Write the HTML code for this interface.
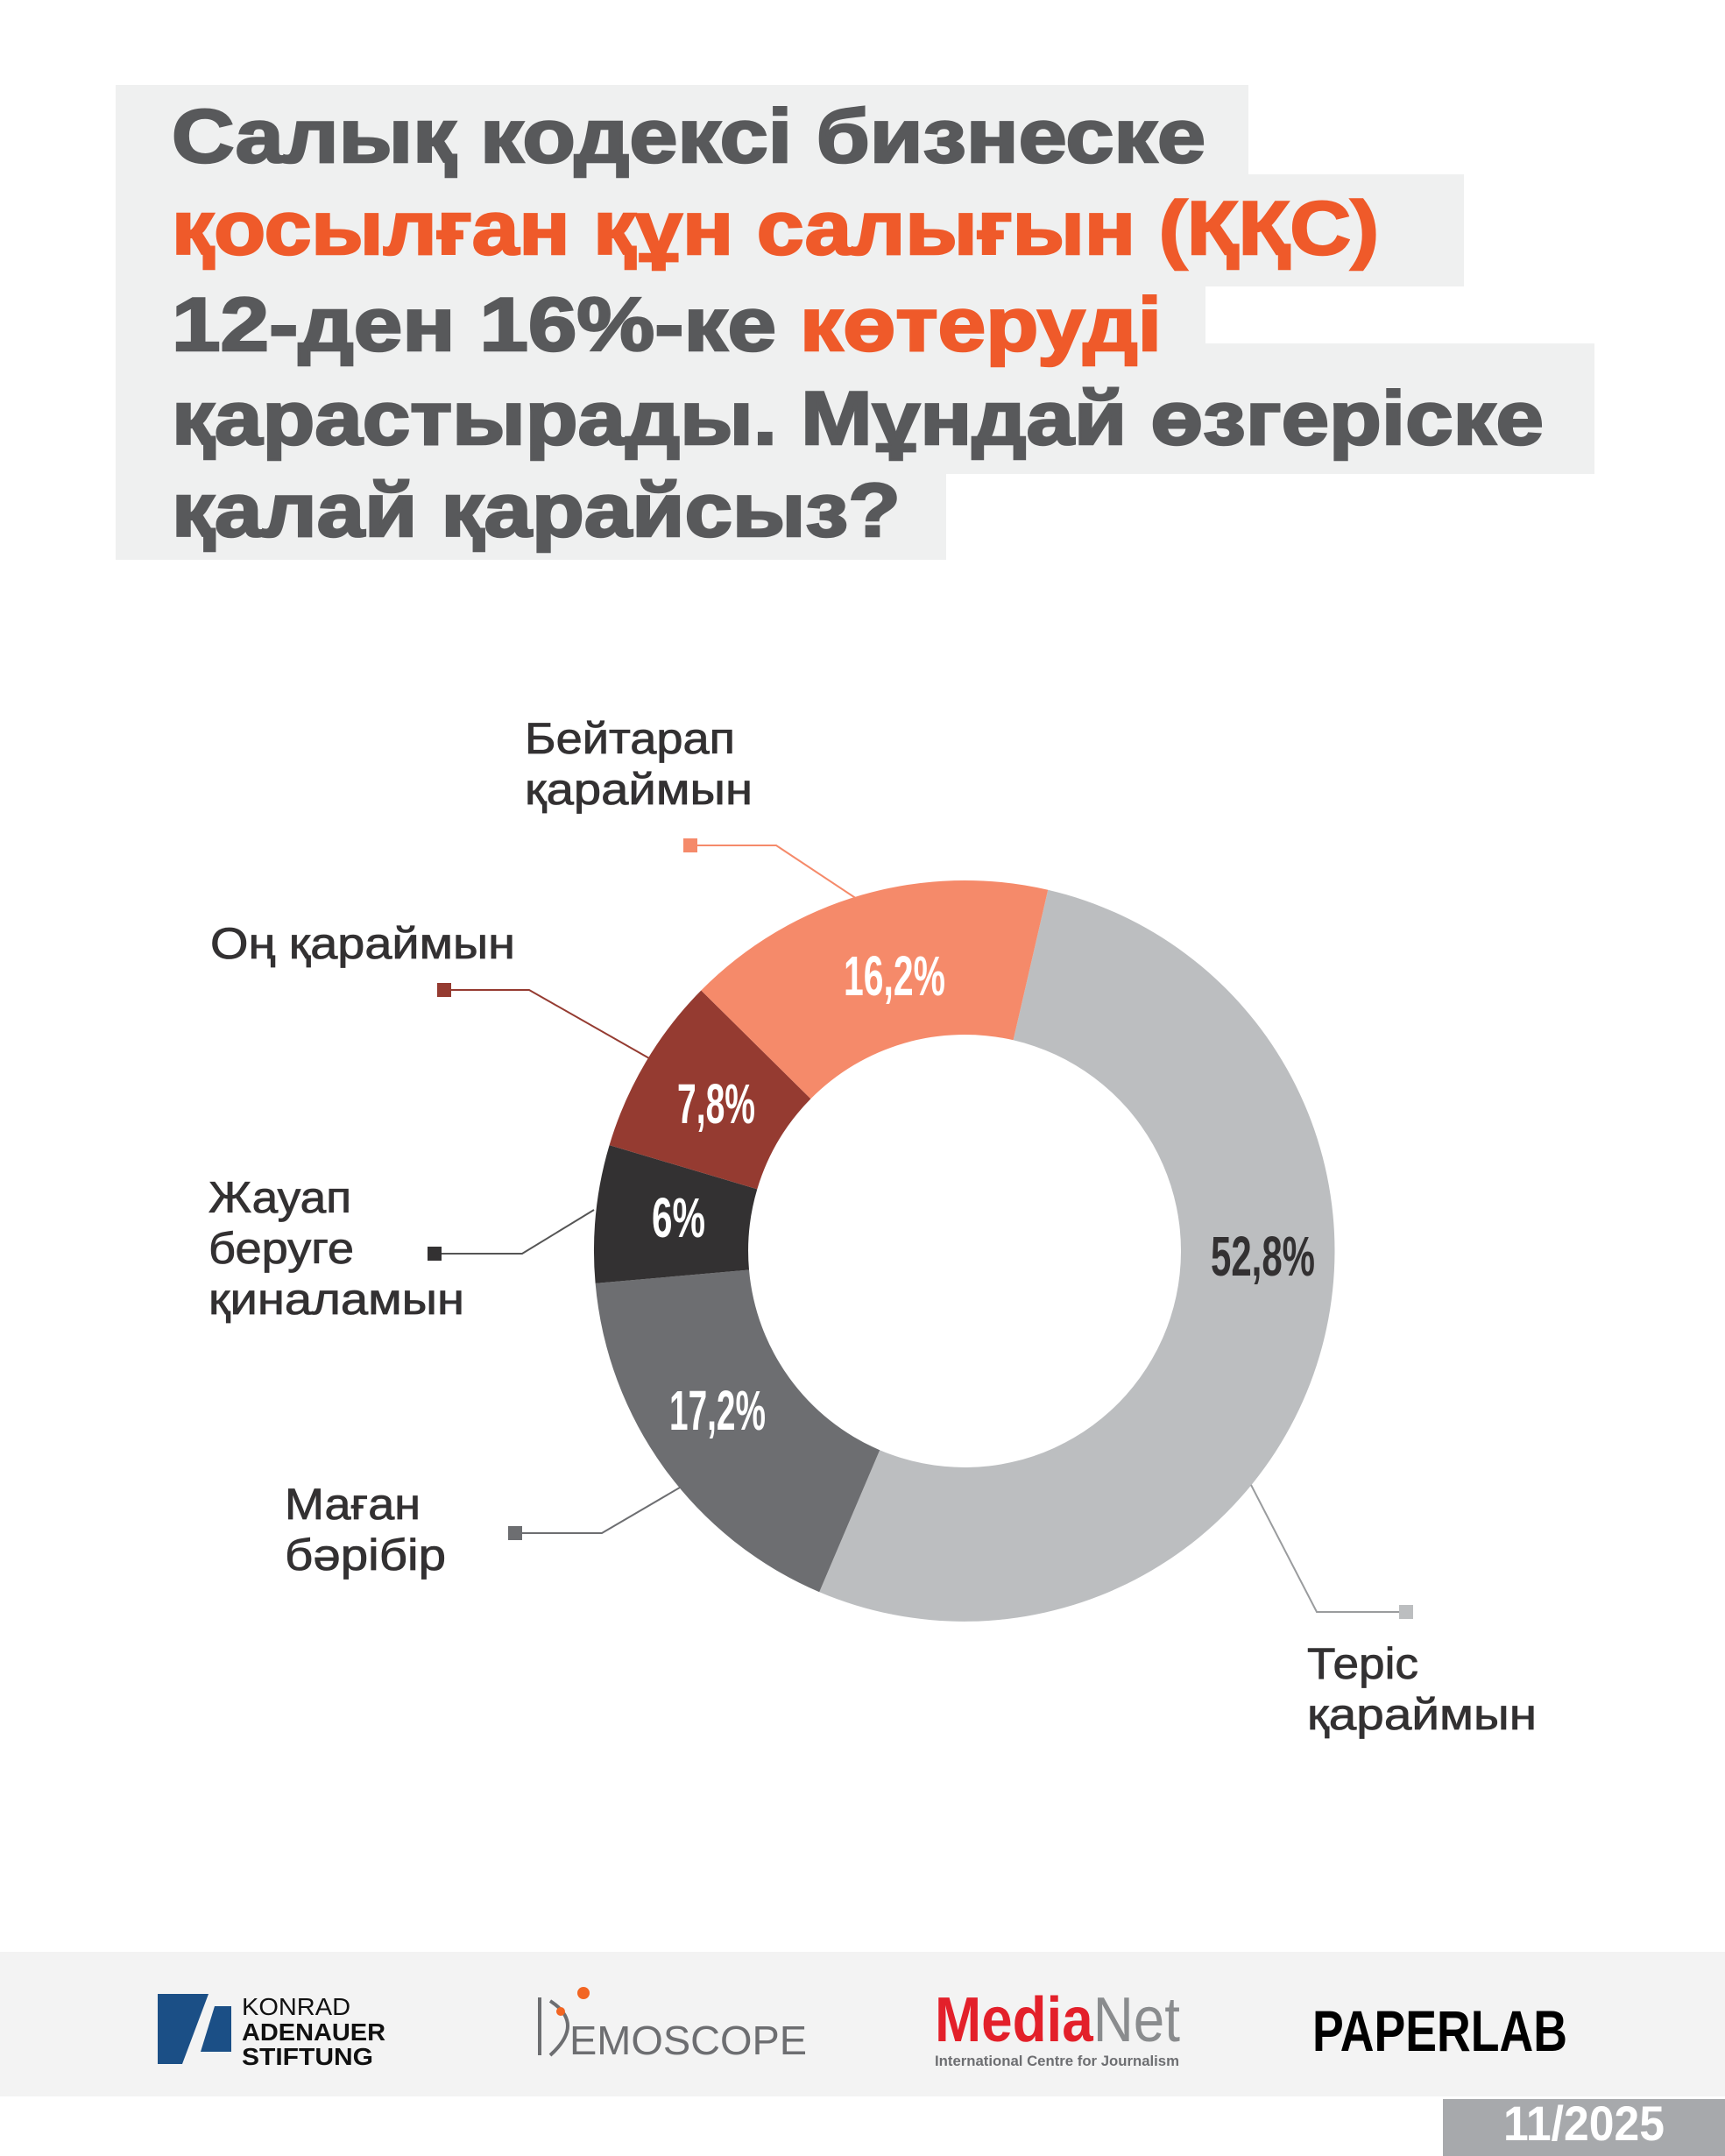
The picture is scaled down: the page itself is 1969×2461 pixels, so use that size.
<!DOCTYPE html>
<html><head><meta charset="utf-8"><style>
html,body{margin:0;padding:0;background:#fff}
svg{display:block}
</style></head><body>
<svg width="1969" height="2461" viewBox="0 0 1969 2461" xmlns="http://www.w3.org/2000/svg" font-family="Liberation Sans, DejaVu Sans, sans-serif">
<rect width="1969" height="2461" fill="#ffffff"/>
<g fill="#eff0f0">
<rect x="132" y="97" width="1293" height="103"/>
<rect x="132" y="199" width="1539" height="128"/>
<rect x="132" y="326" width="1244" height="67"/>
<rect x="132" y="392" width="1688" height="149"/>
<rect x="132" y="540" width="948" height="99"/>
</g>
<g font-weight="bold" font-size="86" fill="#58595b" stroke="#58595b" stroke-width="2.5">
<text x="196" y="185" textLength="1180" lengthAdjust="spacingAndGlyphs">Салық кодексі бизнеске</text>
<text x="196" y="290" textLength="1378" lengthAdjust="spacingAndGlyphs" fill="#ef5a2a" stroke="#ef5a2a">қосылған құн салығын (ҚҚС)</text>
<text x="196" y="400" textLength="690" lengthAdjust="spacingAndGlyphs">12-ден 16%-ке</text>
<text x="913" y="400" textLength="413" lengthAdjust="spacingAndGlyphs" fill="#ef5a2a" stroke="#ef5a2a">көтеруді</text>
<text x="196" y="507" textLength="1566" lengthAdjust="spacingAndGlyphs">қарастырады. Мұндай өзгеріске</text>
<text x="196" y="612" textLength="832" lengthAdjust="spacingAndGlyphs">қалай қарайсыз?</text>
</g>
<path d="M1196.2,1015.8 A423,423 0 1 1 935.2,1817.2 L1004.2,1655.2 A247,247 0 1 0 1156.6,1187.3 Z" fill="#bcbec0"/>
<path d="M935.2,1817.2 A423,423 0 0 1 679.6,1464.9 L855.0,1449.5 A247,247 0 0 0 1004.2,1655.2 Z" fill="#6d6e71"/>
<path d="M679.6,1464.9 A423,423 0 0 1 695.6,1307.1 L864.3,1357.4 A247,247 0 0 0 855.0,1449.5 Z" fill="#333132"/>
<path d="M695.6,1307.1 A423,423 0 0 1 800.3,1130.5 L925.4,1254.3 A247,247 0 0 0 864.3,1357.4 Z" fill="#953b31"/>
<path d="M800.3,1130.5 A423,423 0 0 1 1196.2,1015.8 L1156.6,1187.3 A247,247 0 0 0 925.4,1254.3 Z" fill="#f58a6a"/>
<g font-weight="bold" font-size="64" fill="#fff">
<text x="963" y="1136" textLength="116" lengthAdjust="spacingAndGlyphs">16,2%</text>
<text x="773" y="1282" textLength="89" lengthAdjust="spacingAndGlyphs">7,8%</text>
<text x="744" y="1412" textLength="61" lengthAdjust="spacingAndGlyphs">6%</text>
<text x="764" y="1632" textLength="110" lengthAdjust="spacingAndGlyphs">17,2%</text>
<text x="1382" y="1456" textLength="119" lengthAdjust="spacingAndGlyphs" fill="#333132">52,8%</text>
</g>
<g fill="none" stroke-width="2">
<polyline points="788,965 886,965 981,1028" stroke="#f58a6a"/>
<polyline points="507,1130 604,1130 741,1208" stroke="#953b31"/>
<polyline points="496,1431 596,1431 678,1381" stroke="#555"/>
<polyline points="588,1750 687,1750 781,1695" stroke="#6d6e71"/>
<polyline points="1605,1840 1503,1840 1428,1695" stroke="#9a9c9e"/>
</g>
<rect x="780" y="957" width="16" height="16" fill="#f58a6a"/>
<rect x="499" y="1122" width="16" height="16" fill="#953b31"/>
<rect x="488" y="1423" width="16" height="16" fill="#333132"/>
<rect x="580" y="1742" width="16" height="16" fill="#6d6e71"/>
<rect x="1597" y="1832" width="16" height="16" fill="#bcbec0"/>
<g font-size="50" fill="#333132" stroke="#333132" stroke-width="0.8" lengthAdjust="spacingAndGlyphs">
<text x="599" y="860" textLength="240" lengthAdjust="spacingAndGlyphs">Бейтарап</text><text x="599" y="918" textLength="260" lengthAdjust="spacingAndGlyphs">қараймын</text>
<text x="240" y="1094" textLength="348" lengthAdjust="spacingAndGlyphs">Оң қараймын</text>
<text x="238" y="1384" textLength="163" lengthAdjust="spacingAndGlyphs">Жауап</text><text x="238" y="1442" textLength="166" lengthAdjust="spacingAndGlyphs">беруге</text><text x="238" y="1500" textLength="292" lengthAdjust="spacingAndGlyphs">қиналамын</text>
<text x="325" y="1734" textLength="155" lengthAdjust="spacingAndGlyphs">Маған</text><text x="325" y="1792" textLength="184" lengthAdjust="spacingAndGlyphs">бәрібір</text>
<text x="1492" y="1916" textLength="127" lengthAdjust="spacingAndGlyphs">Теріс</text><text x="1492" y="1974" textLength="262" lengthAdjust="spacingAndGlyphs">қараймын</text>
</g>
<rect x="0" y="2228" width="1969" height="165" fill="#f3f3f3"/>
<rect x="1647" y="2396" width="322" height="65" fill="#a7a9ac"/>
<text x="1716" y="2443" font-weight="bold" font-size="56" fill="#fff" textLength="184" lengthAdjust="spacingAndGlyphs">11/2025</text>
<polygon points="180,2276 264,2276 264,2356 180,2356" fill="#1b4f86"/>
<polygon points="238,2276 264,2276 264,2356 208,2356" fill="#f3f3f3"/>
<polygon points="245,2290 264,2290 264,2342 229,2342" fill="#1b4f86"/>
<g font-size="28" fill="#111">
<text x="276" y="2300" textLength="124" lengthAdjust="spacingAndGlyphs">KONRAD</text>
<text x="276" y="2329" font-weight="bold" textLength="164" lengthAdjust="spacingAndGlyphs">ADENAUER</text>
<text x="276" y="2357" font-weight="bold" textLength="150" lengthAdjust="spacingAndGlyphs">STIFTUNG</text>
</g>
<path d="M616,2280 L616,2346 M628,2284 Q668,2310 628,2346" stroke="#6d6e71" stroke-width="4" fill="none"/>
<circle cx="666" cy="2275" r="7" fill="#f26522"/>
<circle cx="640" cy="2296" r="5" fill="#f26522"/>
<text x="650" y="2345" font-size="46" fill="#6d6e71" textLength="271" lengthAdjust="spacingAndGlyphs">EMOSCOPE</text>
<text x="1067" y="2330" font-size="72" fill="#e3202a" font-weight="bold" textLength="280" lengthAdjust="spacingAndGlyphs">Media<tspan fill="#8a8c8e" font-weight="normal">Net</tspan></text>
<text x="1067" y="2358" font-size="17" fill="#6d6e71" textLength="279" lengthAdjust="spacingAndGlyphs" font-weight="bold">International Centre for Journalism</text>
<text x="1498" y="2341" font-size="66" font-weight="bold" fill="#000" textLength="291" lengthAdjust="spacingAndGlyphs">PAPERLAB</text>
</svg>
</body></html>
